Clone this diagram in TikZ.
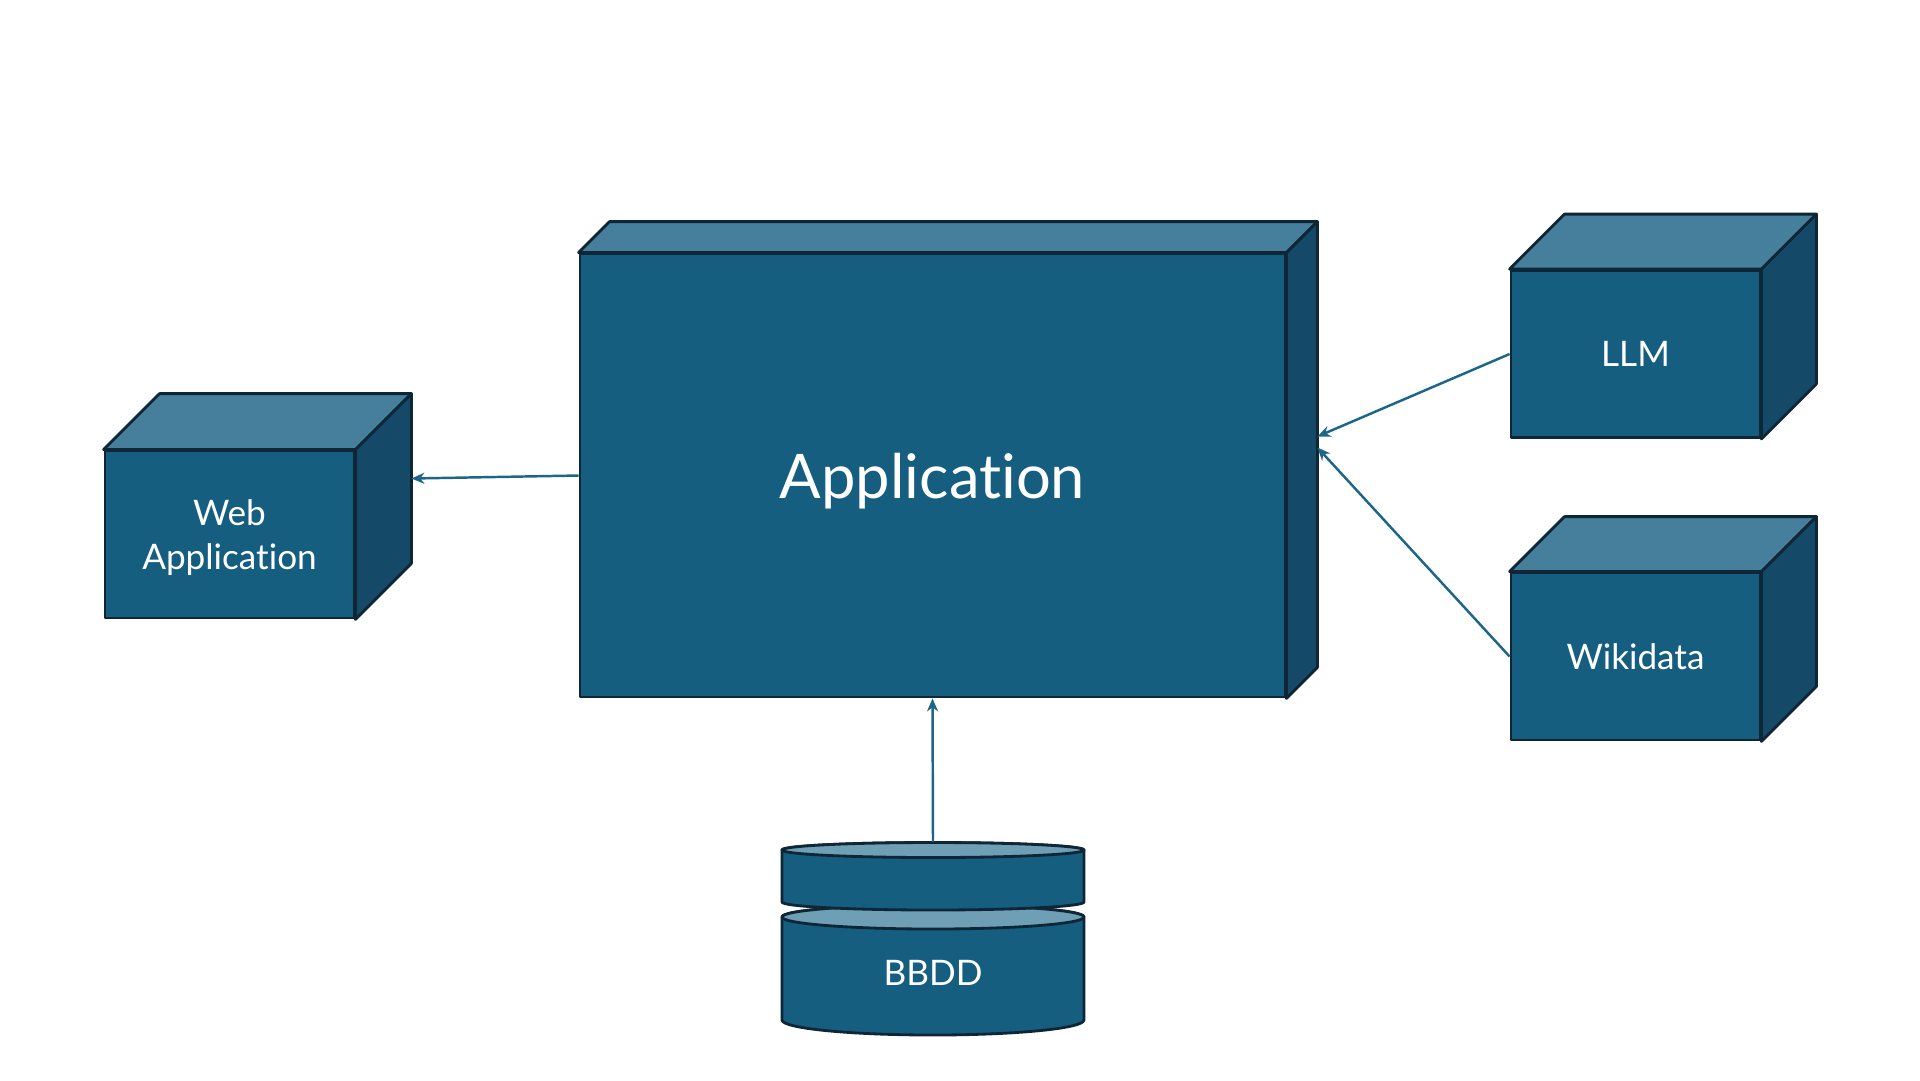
\documentclass[tikz,border=0pt]{standalone}
\usepackage{fontspec}
\setmainfont{Lato}[Ligatures={NoCommon,NoDiscretionary}]
\usetikzlibrary{arrows.meta,calc}
\definecolor{frontc}{HTML}{165E80}
\definecolor{topc}{HTML}{467F9B}
\definecolor{sidec}{HTML}{144A68}
\definecolor{edgec}{HTML}{0E2636}
\definecolor{lidc}{HTML}{6F9FB4}
\definecolor{arrc}{HTML}{1E6689}
\newcommand\cubefaces[2]{%
  \draw[face, fill=topc] (#1.north west) -- ++(#2,-#2) -- ($(#1.north east)+(#2,-#2)$) -- (#1.north east) -- cycle;
  \draw[face, fill=sidec] (#1.north east) -- ++(#2,-#2) -- ($(#1.south east)+(#2,-#2)$) -- (#1.south east) -- cycle;}
\begin{document}
\begin{tikzpicture}[x=0.1mm,y=-0.1mm,
  face/.style={draw=edgec, line width=0.8pt, line join=round},
  frontbox/.style={face, fill=frontc, text=white, inner sep=0pt, align=center, text depth=0pt,
    font=\fontsize{10}{12.5}\selectfont},
  smallbox/.style={frontbox, minimum width=24.9mm, minimum height=16.7mm},
  conn/.style={draw=arrc, line width=0.7pt, -{Stealth[length=1.3mm,width=1.1mm]}},
  label/.style={text=white, inner sep=0pt, font=\fontsize{10}{12.5}\selectfont}
]
\useasboundingbox (0,0) rectangle (1920,1080);
\fill[white] (0,0) rectangle (1920,1080);

% boxes
\node[frontbox, minimum width=70.5mm, minimum height=44.3mm, font=\fontsize{17.5}{20}\selectfont] (app) at (932.5,475.5) {Application};
\cubefaces{app}{31}
\node[smallbox] (web) at (229.5,534.5) {Web\\Application};
\cubefaces{web}{56}
\node[smallbox] (llm) at (1635.5,354) {LLM};
\cubefaces{llm}{55}
\node[smallbox] (wiki) at (1635.5,656.5) {Wikidata};
\cubefaces{wiki}{55}

% database
\draw[face, fill=frontc] (782,917) -- (782,1020) arc[start angle=180, end angle=0, x radius=151, y radius=15]
  -- (1084,917) arc[start angle=0, end angle=-180, x radius=151, y radius=12] -- cycle;
\draw[face, fill=lidc] (933,917) ellipse[x radius=151, y radius=12];
\draw[face, fill=frontc] (782,850) -- (782,902) arc[start angle=180, end angle=0, x radius=151, y radius=8]
  -- (1084,850) arc[start angle=0, end angle=-180, x radius=151, y radius=7.5] -- cycle;
\draw[face, fill=lidc] (933,850) ellipse[x radius=151, y radius=7.5];
\node[minimum width=30.2mm, minimum height=19.25mm, inner sep=0pt] (db) at (933,938.75) {};
\node[label, anchor=base] (dbl) at (933,985) {BBDD};

% connectors
\coordinate (appback) at ($(app.east)+(31,-31)$);
\coordinate (appinL) at ($(appback)+(0,-8)$);
\coordinate (appinW) at ($(appback)+(0,3)$);
\coordinate (webback) at ($(web.east)+(56,-56)$);
\draw[conn] (app.west) -- (webback);
\draw[conn] (llm.west) -- (appinL);
\draw[conn] (wiki.west) -- (appinW);
\draw[conn] (db.north) -- (app.south);
\end{tikzpicture}
\end{document}
